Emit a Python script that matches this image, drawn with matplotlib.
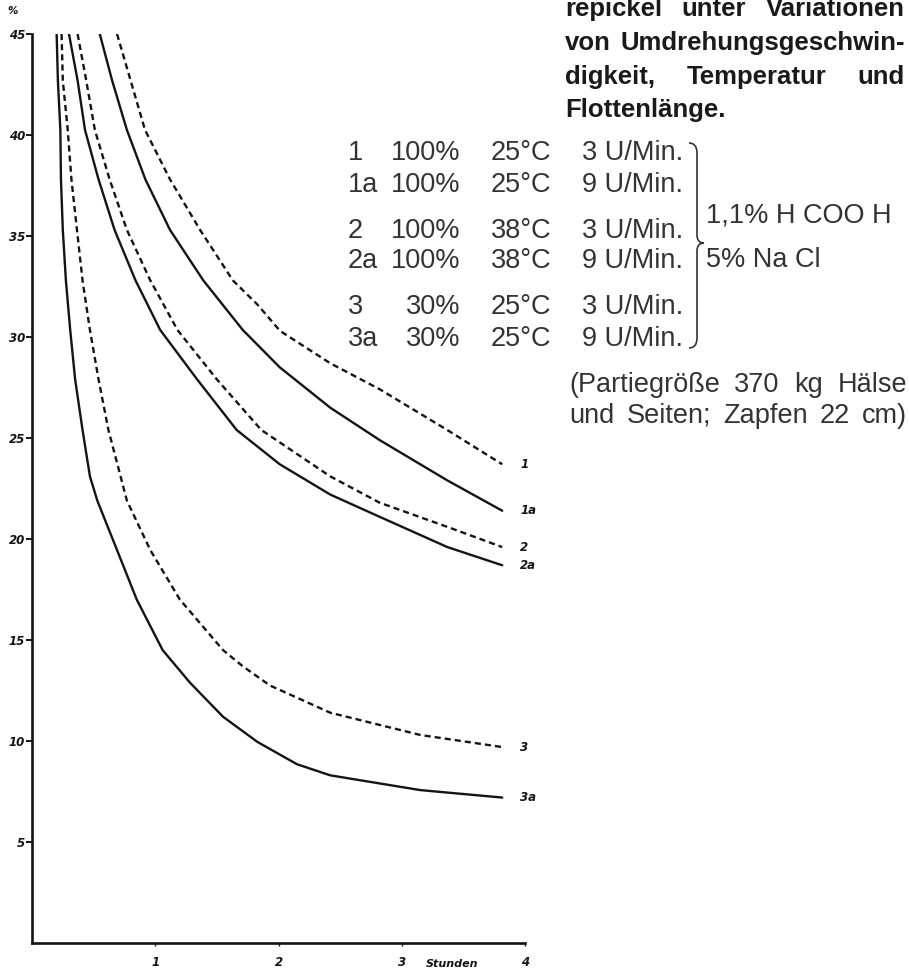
import matplotlib
matplotlib.use("Agg")
import matplotlib.pyplot as plt
from matplotlib.path import Path
from matplotlib.patches import PathPatch

# curves: hours -> percent
h_1 = [0.69, 0.80, 0.917, 1.12, 1.364, 1.63, 1.83, 2.013, 2.42, 2.825, 3.368, 3.815]
v_1 = [45, 42.7, 40.25, 37.8, 35.3, 32.8, 31.6, 30.3, 28.7, 27.4, 25.4, 23.7]

h_1a = [0.55, 0.65, 0.77, 0.92, 1.12, 1.39, 1.71, 2.01, 2.42, 2.82, 3.37, 3.815]
v_1a = [45, 42.7, 40.25, 37.8, 35.3, 32.8, 30.35, 28.5, 26.5, 24.9, 22.9, 21.4]

h_2 = [0.37, 0.44, 0.51, 0.63, 0.77, 0.96, 1.18, 1.50, 1.86, 2.42, 2.82, 3.37, 3.815]
v_2 = [45, 42.7, 40.25, 37.8, 35.3, 32.8, 30.35, 27.9, 25.4, 23.1, 21.8, 20.6, 19.6]

h_2a = [0.30, 0.37, 0.43, 0.54, 0.67, 0.84, 1.04, 1.34, 1.66, 2.01, 2.42, 2.82, 3.37, 3.815]
v_2a = [45, 42.7, 40.25, 37.8, 35.3, 32.8, 30.35, 27.9, 25.4, 23.7, 22.2, 21.1, 19.6, 18.7]

h_3 = [0.24, 0.25, 0.29, 0.32, 0.365, 0.41, 0.47, 0.54, 0.62, 0.77, 0.96, 1.2, 1.55, 1.71, 1.93, 2.42, 3.15, 3.815]
v_3 = [45, 42.7, 40.25, 37.8, 35.3, 32.8, 30.35, 27.9, 25.4, 21.9, 19.45, 17.0, 14.5, 13.7, 12.75, 11.4, 10.3, 9.7]

h_3a = [0.20, 0.21, 0.23, 0.235, 0.25, 0.275, 0.31, 0.35, 0.41, 0.47, 0.53, 0.69, 0.85, 1.06, 1.28, 1.55, 1.83, 2.15, 2.42, 3.15, 3.815]
v_3a = [45, 42.7, 40.25, 37.8, 35.3, 32.8, 30.35, 27.9, 25.4, 23.1, 21.9, 19.45, 17.0, 14.5, 12.9, 11.2, 9.95, 8.85, 8.3, 7.57, 7.2]

curve_names = ["1", "1a", "2", "2a", "3", "3a"]
curve_dashed = [True, False, True, False, True, False]

yticks = [5, 10, 15, 20, 25, 30, 35, 40, 45]
xticks = [1, 2, 3, 4]

title_lines = ["repickel unter Variationen", "von Umdrehungsgeschwin-",
               "digkeit, Temperatur und", "Flottenlänge."]
title_base = [16, 50, 84, 117]

leg_names = ["1", "1a", "2", "2a", "3", "3a"]
leg_flotte = ["100%", "100%", "100%", "100%", "30%", "30%"]
leg_temp = ["25°C", "25°C", "38°C", "38°C", "25°C", "25°C"]
leg_speed = ["3 U/Min.", "9 U/Min.", "3 U/Min.", "9 U/Min.", "3 U/Min.", "9 U/Min."]
leg_base = [160, 192, 238, 268, 314, 346]
bath = ["1,1% H COO H", "5% Na Cl"]

note_lines = ["(Partiegröße 370 kg Hälse", "und Seiten; Zapfen 22 cm)"]
note_base = [392, 423]

W, H = 909, 969


def fx(px):
    return px / W


def fy(py):
    return 1 - py / H


fig = plt.figure(figsize=(W / 100, H / 100), dpi=100)
ax = fig.add_axes([fx(32), 26 / H, 493 / W, 909 / H])
renderer = fig.canvas.get_renderer()


def justify(line, left, right, base, last=False, **kw):
    words = line.split()
    texts = [fig.text(fx(left), fy(base), w, ha="left", va="baseline", **kw) for w in words]
    if last or len(words) < 2:
        spacer = fig.text(0, 0, "a a", **kw)
        gap = spacer.get_window_extent(renderer).width
        spacer.set_text("aa")
        gap -= spacer.get_window_extent(renderer).width
        spacer.remove()
    widths = [t.get_window_extent(renderer).width for t in texts]
    if not (last or len(words) < 2):
        gap = (right - left - sum(widths)) / (len(words) - 1)
    x = left
    for t, wd in zip(texts, widths):
        t.set_x(fx(x))
        x += wd + gap


ink = "#141414"
series = [(h_1, v_1), (h_1a, v_1a), (h_2, v_2), (h_2a, v_2a), (h_3, v_3), (h_3a, v_3a)]
for (hx, vy), name, dashed in zip(series, curve_names, curve_dashed):
    ls = (0, (2.6, 1.7)) if dashed else "-"
    ax.plot(hx, vy, color=ink, lw=1.7, ls=ls, solid_capstyle="round")
    ax.text(3.96, vy[-1], name, fontsize=8.5, fontweight="bold", fontstyle="italic",
            ha="left", va="center", color=ink, clip_on=False)

ax.set_xlim(0, 4)
ax.set_ylim(0, 45)
ax.set_xticks(xticks)
ax.set_yticks(yticks)
ax.set_xticklabels([str(t) for t in xticks])
ax.set_yticklabels([str(t) for t in yticks])
for lab in ax.get_xticklabels() + ax.get_yticklabels():
    lab.set_fontweight("bold")
    lab.set_fontstyle("italic")
ax.tick_params(axis="y", direction="out", length=4, width=1.4, labelsize=8.5, pad=1, colors=ink)
ax.tick_params(axis="x", direction="out", length=2, width=1.0, labelsize=8.5, pad=7, colors=ink)
for s in ["top", "right"]:
    ax.spines[s].set_visible(False)
for s in ["left", "bottom"]:
    ax.spines[s].set_linewidth(1.9)
    ax.spines[s].set_color(ink)

fig.text(fx(13), fy(14), "%", fontsize=7.5, fontweight="bold", fontstyle="italic", ha="center", color=ink)
fig.text(fx(452), fy(967), "Stunden", fontsize=8, fontweight="bold", fontstyle="italic",
         ha="center", va="baseline", color=ink)

# heading, justified like the print
for i, (line, base) in enumerate(zip(title_lines, title_base)):
    justify(line, 565, 905, base, last=(i == len(title_lines) - 1),
            family="Liberation Sans", fontsize=18.5, fontweight="bold", color="#1a1a1a")

# legend table
tcol = "#333333"
kw = dict(family="Liberation Sans", fontsize=19.5, va="baseline", color=tcol)
for i in range(len(leg_names)):
    fig.text(fx(348), fy(leg_base[i]), leg_names[i], ha="left", **kw)
    fig.text(fx(460), fy(leg_base[i]), leg_flotte[i], ha="right", **kw)
    fig.text(fx(491), fy(leg_base[i]), leg_temp[i], ha="left", **kw)
    fig.text(fx(582), fy(leg_base[i]), leg_speed[i], ha="left", **kw)
fig.text(fx(706), fy(222), bath[0], ha="left", **kw)
fig.text(fx(706), fy(267), bath[1], ha="left", **kw)

# curly brace
x0, x1, xc = 689, 697, 704
top, mid, bot = 143, 243, 348
pts = [(x0, top), (x1, top), (x1, top + 10),
       (x1, mid - 8),
       (x1, mid), (xc, mid),
       (x1, mid), (x1, mid + 8),
       (x1, bot - 10),
       (x1, bot), (x0, bot)]
codes = [Path.MOVETO, Path.CURVE3, Path.CURVE3,
         Path.LINETO,
         Path.CURVE3, Path.CURVE3,
         Path.CURVE3, Path.CURVE3,
         Path.LINETO,
         Path.CURVE3, Path.CURVE3]
brace = Path([(fx(a), fy(b)) for a, b in pts], codes)
fig.add_artist(PathPatch(brace, transform=fig.transFigure, fill=False, lw=1.2, ec=tcol))

for line, base in zip(note_lines, note_base):
    justify(line, 569, 907, base, family="Liberation Sans", fontsize=19.5, color=tcol)

fig.savefig("out.png", dpi=100, facecolor="white")
